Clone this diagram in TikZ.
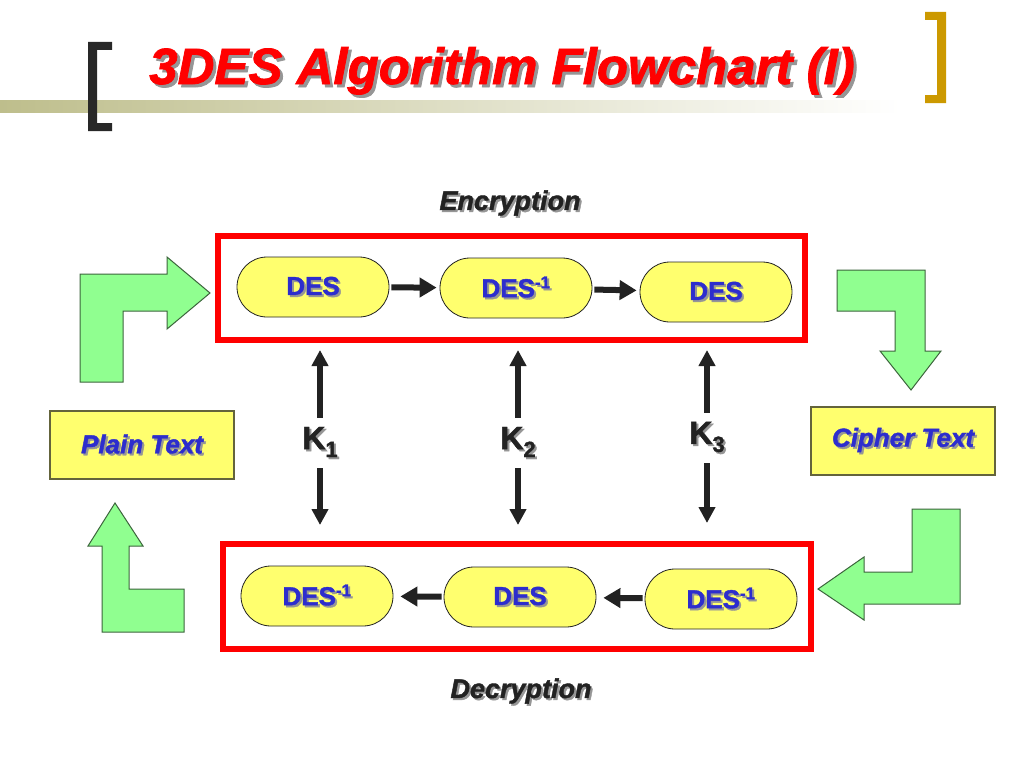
\documentclass[tikz,border=0pt]{standalone}
\usepackage{fontspec}
\setmainfont{Liberation Sans}
\newfontfamily\heavy{Liberation Sans}[UprightFeatures={FakeBold=1.5},BoldFeatures={FakeBold=1.5},ItalicFeatures={FakeBold=1.5},BoldItalicFeatures={FakeBold=1.5}]
\usetikzlibrary{arrows.meta}
\definecolor{titlered}{RGB}{255,0,0}
\definecolor{shadowgray}{RGB}{150,150,150}
\definecolor{pillfill}{RGB}{255,255,110}
\definecolor{pillblue}{RGB}{45,45,205}
\definecolor{greenfill}{RGB}{144,255,144}
\definecolor{greenedge}{RGB}{60,100,60}
\definecolor{darkink}{RGB}{34,34,34}
\definecolor{goldbr}{RGB}{204,153,0}
\definecolor{darkbr}{RGB}{40,40,40}
\definecolor{barolive}{RGB}{190,190,140}
\definecolor{boxedge}{RGB}{100,100,60}
\newcommand{\shtext}[2][2pt]{\rlap{\kern#1\raisebox{-#1}{\textcolor{shadowgray}{#2}}}#2}
\newcommand{\invsup}{\textsuperscript{\fontsize{17}{18}\selectfont -1}}
\begin{document}
\begin{tikzpicture}[x=1pt,y=-1pt,
  pill/.style={draw=darkink, line width=0.8pt, fill=pillfill, rounded corners=30pt,
    minimum width=152pt, minimum height=60pt, inner sep=0pt, text=pillblue,
    font=\heavy\fontsize{26}{30}\selectfont\bfseries},
  redbox/.style={draw=red, line width=6pt, inner sep=0pt},
  textbox/.style={draw=boxedge, line width=1.2pt, fill=pillfill, minimum width=184pt,
    minimum height=68pt, inner sep=0pt, text=pillblue,
    font=\heavy\fontsize{26}{30}\selectfont\bfseries\itshape},
  flowarrow/.style={draw=darkink, line width=6pt, -{Triangle[length=17pt,width=19pt]}},
  keyarrow/.style={draw=darkink, line width=5.5pt, -{Triangle[length=16pt,width=16pt]}},
  keylabel/.style={text=darkink, inner sep=9pt, font=\heavy\fontsize{32}{36}\selectfont\bfseries},
  sidelabel/.style={text=darkink, inner sep=0pt, font=\heavy\fontsize{27}{30}\selectfont\bfseries\itshape},
  greenarrow/.style={fill=greenfill, draw=greenedge, line width=1pt, line join=miter}
]
\useasboundingbox (0,0) rectangle (1024,768);
\fill[white] (0,0) rectangle (1024,768);

% header bar and brackets
\shade[left color=barolive, right color=white] (0,100) rectangle (900,112);
\fill[darkbr] (88,42) -- (112,42) -- (112,50) -- (97,50) -- (97,123) -- (112,123) -- (112,131) -- (88,131) -- cycle;
\fill[goldbr] (946,12) -- (925,12) -- (925,20) -- (937,20) -- (937,95) -- (925,95) -- (925,103) -- (946,103) -- cycle;

% title
\node[anchor=base, text=titlered, inner sep=0pt, font=\heavy\fontsize{51}{56}\selectfont\bfseries\itshape]
  (title) at (502,84) {\shtext[3pt]{3DES Algorithm Flowchart (I)}};

% labels
\node[sidelabel] (enclabel) at (510,204) {\shtext{Encryption}};
\node[sidelabel] (declabel) at (521,692) {\shtext{Decryption}};

% frames
\node[redbox, minimum width=587pt, minimum height=104pt] (enc) at (511.5,288) {};
\node[redbox, minimum width=588pt, minimum height=105pt] (dec) at (517,596.5) {};

% encryption pills
\node[pill] (e1) at (313,287) {\shtext{DES}};
\node[pill] (e2) at (516,288) {\shtext{DES\invsup}};
\node[pill] (e3) at (716,292) {\shtext{DES}};
\draw[flowarrow, shorten <=2pt, shorten >=3pt] (e1) -- (e2);
\draw[flowarrow, shorten <=2pt, shorten >=3pt] (e2) -- (e3);

% decryption pills
\node[pill] (d1) at (317,596) {\shtext{DES\invsup}};
\node[pill] (d2) at (520,597) {\shtext{DES}};
\node[pill] (d3) at (721,599) {\shtext{DES\invsup}};
\draw[flowarrow, shorten <=2pt, shorten >=7pt] (d2) -- (d1);
\draw[flowarrow, shorten <=2pt, shorten >=7pt] (d3) -- (d2);

% keys
\node[keylabel] (k1) at (320,443) {\shtext{K\raisebox{-8pt}{\fontsize{22}{24}\selectfont 1}}};
\node[keylabel] (k2) at (518,443) {\shtext{K\raisebox{-8pt}{\fontsize{22}{24}\selectfont 2}}};
\node[keylabel] (k3) at (707,438) {\shtext{K\raisebox{-8pt}{\fontsize{22}{24}\selectfont 3}}};
\draw[keyarrow, shorten >=7pt] (k1.north) -- (k1.north |- enc.south);
\draw[keyarrow, shorten >=16pt] (k1.south) -- (k1.south |- dec.north);
\draw[keyarrow, shorten >=7pt] (k2.north) -- (k2.north |- enc.south);
\draw[keyarrow, shorten >=16pt] (k2.south) -- (k2.south |- dec.north);
\draw[keyarrow, shorten >=7pt] (k3.north) -- (k3.north |- enc.south);
\draw[keyarrow, shorten >=18pt] (k3.south) -- (k3.south |- dec.north);

% text boxes
\node[textbox] (plain) at (142,445) {\shtext{Plain Text}};
\node[textbox] (cipher) at (903,441) {\shtext{Cipher Text}};

% green bent arrows
\draw[greenarrow] (80,382) -- (80,274) -- (167,274) -- (167,257) -- (210,293) -- (167,329) -- (167,311) -- (123,311) -- (123,382) -- cycle;
\draw[greenarrow] (837,270) -- (925,270) -- (925,351) -- (941,351) -- (911,390) -- (880,351) -- (895,351) -- (895,311) -- (837,311) -- cycle;
\draw[greenarrow] (960,509) -- (960,604) -- (864,604) -- (864,620) -- (818,589) -- (864,557) -- (864,572) -- (912,572) -- (912,509) -- cycle;
\draw[greenarrow] (102,632) -- (102,546) -- (88,546) -- (115,503) -- (143,546) -- (129,546) -- (129,589) -- (184,589) -- (184,632) -- cycle;
\end{tikzpicture}
\end{document}
